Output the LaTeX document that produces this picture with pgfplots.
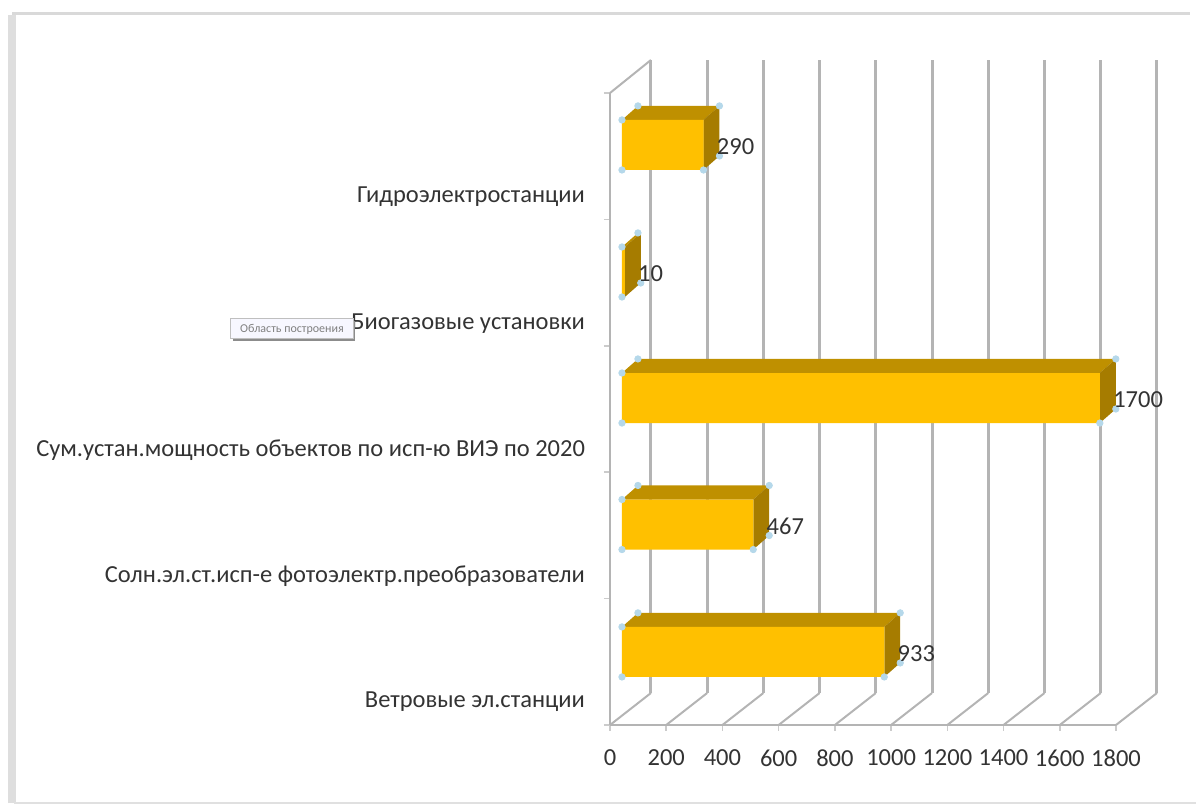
\documentclass[border=0pt]{standalone}
\usepackage{pgfplots}
\usepackage{pgfplotstable}
\usepackage{fontspec}
\usetikzlibrary{calc}
\pgfplotsset{compat=1.18}
\setmainfont{Carlito}

\definecolor{barfront}{HTML}{FFC000}
\definecolor{bartop}{HTML}{BF9000}
\definecolor{barside}{HTML}{A67C00}
\definecolor{wallgrey}{HTML}{B4B4B4}
\definecolor{handle}{HTML}{B5D8EA}
\definecolor{labelgrey}{HTML}{333333}

% bar centre on the y axis, value
\pgfplotstableread{
pos   value
0.578 933
1.586 467
2.587 1700
3.584 10
4.589 290
}\bars

\begin{document}
\begin{tikzpicture}
\begin{axis}[
    scale only axis,
    width=253pt,
    height=316pt,
    xmin=0, xmax=1800,
    ymin=0, ymax=5,
    clip=false,
    axis lines=left,
    axis line style={-, draw=wallgrey, line width=1.2pt},
    tick align=outside,
    xtick={0,200,...,1800},
    ytick={0.198,1.195,2.191,3.188,4.193},
    yticklabels={Ветровые эл.станции,
        Солн.эл.ст.исп-е фотоэлектр.преобразователи,
        Сум.устан.мощность объектов  по исп-ю ВИЭ по 2020,
        Биогазовые установки,
        Гидроэлектростанции},
    minor ytick={0,1,...,5},
    major y tick style={draw=none},
    minor y tick style={draw=wallgrey!70, line width=0.8pt},
    major x tick style={draw=wallgrey!70, line width=0.8pt},
    major tick length=3pt,
    minor tick length=3pt,
    xticklabel style={yshift=-6pt},
    yticklabel style={xshift=-6pt, yshift=-1pt},
    tick label style={font=\fontsize{12.25}{14}\selectfont, text=labelgrey},
    /pgf/number format/assume math mode=true,
    /pgf/number format/1000 sep={},
    scaled x ticks=false,
    unbounded coords=jump,
]
% walls and floor of the 3D box
\addplot[draw=wallgrey, line width=1.5pt] coordinates {
    (145.6,0.253) (145.6,5.261) (nan,nan)
    (345.6,0.253) (345.6,5.261) (nan,nan)
    (545.6,0.253) (545.6,5.261) (nan,nan)
    (745.6,0.253) (745.6,5.261) (nan,nan)
    (945.6,0.253) (945.6,5.261) (nan,nan)
    (1145.6,0.253) (1145.6,5.261) (nan,nan)
    (1345.6,0.253) (1345.6,5.261) (nan,nan)
    (1545.6,0.253) (1545.6,5.261) (nan,nan)
    (1745.6,0.253) (1745.6,5.261) (nan,nan)
    (1945.6,0.253) (1945.6,5.261)
};
\addplot[draw=wallgrey, line width=1pt] coordinates {
    (0,0) (145.6,0.253) (nan,nan)
    (200,0) (345.6,0.253) (nan,nan)
    (400,0) (545.6,0.253) (nan,nan)
    (600,0) (745.6,0.253) (nan,nan)
    (800,0) (945.6,0.253) (nan,nan)
    (1000,0) (1145.6,0.253) (nan,nan)
    (1200,0) (1345.6,0.253) (nan,nan)
    (1400,0) (1545.6,0.253) (nan,nan)
    (1600,0) (1745.6,0.253) (nan,nan)
    (1800,0) (1945.6,0.253) (nan,nan)
    (0,5) (145.6,5.261)
};

% top faces
\addplot[fill=bartop, draw=none] coordinates {(42.6,0.776) (975.6,0.776) (1032.4,0.887) (99.4,0.887)} -- cycle;
\addplot[fill=bartop, draw=none] coordinates {(42.6,1.784) (509.6,1.784) (566.4,1.895) (99.4,1.895)} -- cycle;
\addplot[fill=bartop, draw=none] coordinates {(42.6,2.785) (1742.6,2.785) (1799.4,2.896) (99.4,2.896)} -- cycle;
\addplot[fill=bartop, draw=none] coordinates {(42.6,3.782) (52.6,3.782) (109.4,3.893) (99.4,3.893)} -- cycle;
\addplot[fill=bartop, draw=none] coordinates {(42.6,4.787) (332.6,4.787) (389.4,4.898) (99.4,4.898)} -- cycle;
% side faces
\addplot[fill=barside, draw=none] coordinates {(975.6,0.776) (1032.4,0.887) (1032.4,0.491) (975.6,0.380)} -- cycle;
\addplot[fill=barside, draw=none] coordinates {(509.6,1.784) (566.4,1.895) (566.4,1.499) (509.6,1.388)} -- cycle;
\addplot[fill=barside, draw=none] coordinates {(1742.6,2.785) (1799.4,2.896) (1799.4,2.500) (1742.6,2.389)} -- cycle;
\addplot[fill=barside, draw=none] coordinates {(52.6,3.782) (109.4,3.893) (109.4,3.497) (52.6,3.386)} -- cycle;
\addplot[fill=barside, draw=none] coordinates {(332.6,4.787) (389.4,4.898) (389.4,4.502) (332.6,4.391)} -- cycle;

% selection handles on the corners, partly hidden by the faces
\addplot[only marks, color=handle, mark=*, mark size=1.6pt, mark options={draw=handle, fill=handle}] coordinates {
    (42.6,0.776) (42.6,0.380) (975.6,0.380) (99.4,0.887) (1032.4,0.887) (1032.4,0.491)
    (42.6,1.784) (42.6,1.388) (509.6,1.388) (99.4,1.895) (566.4,1.895) (566.4,1.499)
    (42.6,2.785) (42.6,2.389) (1742.6,2.389) (99.4,2.896) (1799.4,2.896) (1799.4,2.500)
    (42.6,3.782) (42.6,3.386) (99.4,3.893) (109.4,3.497)
    (42.6,4.787) (42.6,4.391) (332.6,4.391) (99.4,4.898) (389.4,4.898) (389.4,4.502)
};

% front faces, moved off the wall as in the 3D original
\addplot[xbar, bar width=25pt, bar shift=0pt, xshift=6pt, fill=barfront, draw=none,
    point meta=x,
    nodes near coords,
    every node near coord/.append style={
        font=\fontsize{12.25}{14}\selectfont, text=labelgrey, inner sep=0pt, xshift=6.5pt, yshift=-1pt},
] table[x=value, y=pos] {\bars};

\coordinate (o) at (axis cs:0,0);
\end{axis}
% chart area tooltip and the outer frame of the screenshot
\node[fill=black!45, minimum width=61pt, minimum height=10pt, inner sep=0pt] at ($(o)+(-158pt,197pt)$) {};
\node[fill=blue!3, draw=black!25, line width=0.5pt, minimum width=61pt, minimum height=10pt, inner sep=0pt,
    font=\fontsize{6}{7}\selectfont, text=black!50] at ($(o)+(-159pt,198pt)$) {Область построения};
\draw[black!15, line width=1.5pt] ($(o)+(-298pt,-39pt)$) -- ($(o)+(-298pt,355.5pt)$) -- ($(o)+(290pt,355.5pt)$);
\draw[black!13, line width=4pt] ($(o)+(-299pt,-39pt)$) -- ($(o)+(-299pt,355pt)$);
\draw[black!12, line width=1pt] ($(o)+(-298pt,-39pt)$) -- ($(o)+(293pt,-39pt)$);
\path[use as bounding box] ($(o)+(-305pt,-40pt)$) rectangle ($(o)+(293.5pt,362.5pt)$);
\end{tikzpicture}
\end{document}
